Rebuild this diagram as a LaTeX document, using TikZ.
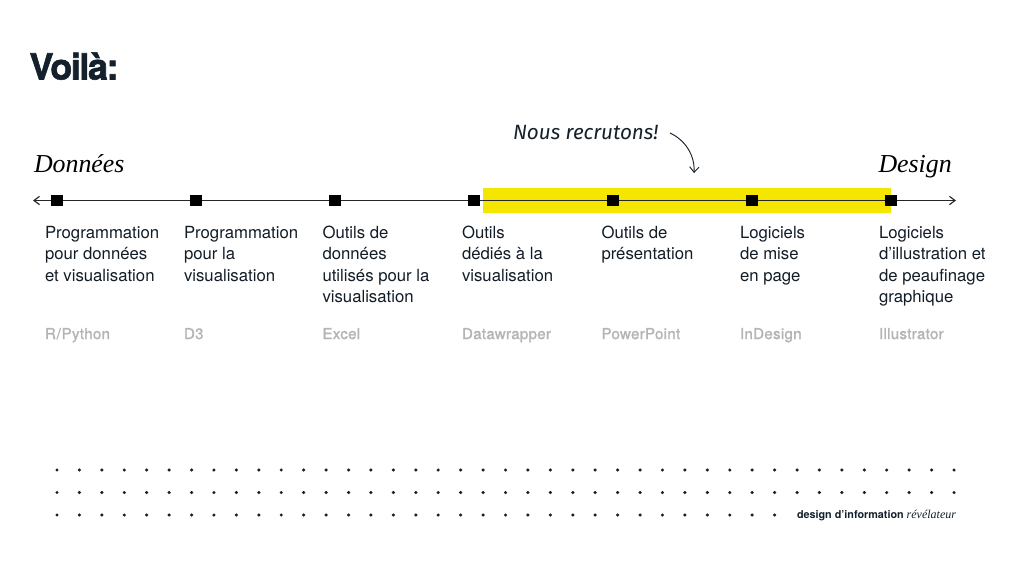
\documentclass[tikz,border=0pt]{standalone}
\usepackage{fontspec}
\setmainfont{TeX Gyre Heros}
\newfontfamily\serifit{Liberation Serif}[ItalicFont=* Italic]
\newfontfamily\handit{Fira Sans}[ItalicFont=* Italic]
\newfontfamily\titlef{TeX Gyre Heros}[BoldFont=* Bold,BoldFeatures={FakeBold=1.6},LetterSpace=-4]
\newfontfamily\greyf{TeX Gyre Heros}[FakeBold=1.4,LetterSpace=2]
\definecolor{ink}{HTML}{14202B}
\definecolor{hl}{HTML}{F5E600}
\definecolor{grey}{HTML}{B4B4B4}
\newcommand{\firstline}{\rule{0pt}{10pt}}
\usetikzlibrary{arrows.meta}
\tikzset{
  x=0.75pt,y=-0.75pt,
  every node/.style={inner sep=0pt,outer sep=0pt},
  tick/.style={fill=black,minimum size=8.6pt,draw=none},
  body/.style={anchor=north west,align=left,font=\fontsize{12.55pt}{16pt}\selectfont,text=ink!90!black},
  tool/.style={anchor=north west,font=\greyf\fontsize{11.3pt}{13pt}\selectfont,text=grey},
  ends/.style={anchor=base west,font=\serifit\itshape\fontsize{19.4pt}{22pt}\selectfont,text=black},
  axis/.style={line width=0.85pt,draw=black!85},
  tinydot/.style={circle,fill=ink,minimum size=2.6pt},
  tipped/.style={-{Straight Barb[length=4.2pt,width=6.2pt]}}
}
\begin{document}
\begin{tikzpicture}
\useasboundingbox (0,0) rectangle (1024,569);
\fill[white] (0,0) rectangle (1024,569);
\node[anchor=base west,font=\titlef\bfseries\fontsize{27pt}{30pt}\selectfont,text=ink] (title) at (29.5,79.5) {Voilà:};
\node[ends] (donnees) at (34,172) {Données};
\node[ends] (design) at (878.5,172) {Design};
\node[anchor=base west,font=\handit\itshape\fontsize{15.5pt}{18pt}\selectfont,text=ink] (nous) at (513,139) {Nous recrutons!};
\fill[hl] (483,188) rectangle (891,212.5);
\coordinate (L) at (33,200.5);
\coordinate (R) at (956,200.5);
\draw[axis,tipped] (57,200.5) -- (L);
\draw[axis,tipped] (57,200.5) -- (R);
\foreach \n/\x in {a/57,b/196,c/335,d/474,e/613,f/752,g/891}{
  \node[tick] (t\n) at (\x,200.5) {};
}
\coordinate (cs) at (670,133);
\coordinate (ce) at (694,173);
\draw[line width=0.7pt,draw=ink,-{Straight Barb[length=4pt,width=7pt]}] (cs) .. controls (685,140) and (695,155) .. (ce);
\node[body] (l1) at (45,225) {\firstline Programmation\\pour données\\et visualisation};
\node[body] (l2) at (184,225) {\firstline Programmation\\pour la\\visualisation};
\node[body] (l3) at (322.5,225) {\firstline Outils de\\données\\utilisés pour la\\visualisation};
\node[body] (l4) at (462,225) {\firstline Outils\\dédiés à la\\visualisation};
\node[body] (l5) at (601.5,225) {\firstline Outils de\\présentation};
\node[body] (l6) at (740,225) {\firstline Logiciels\\de mise\\en page};
\node[body] (l7) at (879,225) {\firstline Logiciels\\d’illustration et\\de peaufinage\\graphique};
\foreach \n/\x/\t in {1/45/R{\kern0.6pt/\kern0.6pt}Python,2/184/D3,3/322.5/Excel,4/462/Datawrapper,5/601.5/PowerPoint,6/740/InDesign,7/879/Illustrator}{
  \node[tool] (g\n) at (\x,325.7) {\firstline\t};
}
\foreach \i in {0,...,40}{
  \node[tinydot] (p\i) at ({57+\i*22.425},470) {};
  \node[tinydot] (q\i) at ({57+\i*22.425},492.5) {};
}
\foreach \i in {0,...,32}{
  \node[tinydot] (r\i) at ({57+\i*22.425},515) {};
}
\node[anchor=base west,font=\fontsize{8.1pt}{10pt}\selectfont\bfseries,text=ink] (sig) at (797,518.5) {design d’information \mbox{\serifit\itshape\mdseries\fontsize{9pt}{10pt}\selectfont révélateur}};
\end{tikzpicture}
\end{document}
